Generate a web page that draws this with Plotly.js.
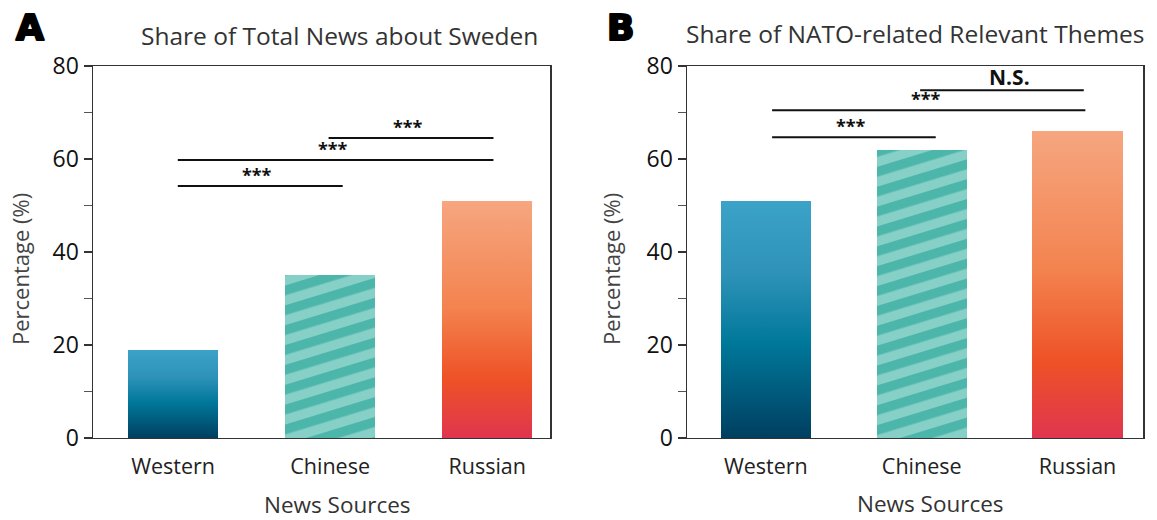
<!DOCTYPE html>
<html><head><meta charset="utf-8">
<script src="https://cdn.plot.ly/plotly-3.0.1.min.js"></script>
<style>html,body{margin:0;padding:0;background:#fff}#chart{width:1157px;height:520px}</style>
</head><body><div id="chart"></div>
<script>
// ---- data ----
const categories = ['Western', 'Chinese', 'Russian'];
const sharePctA = [19, 35, 51];   // Share of Total News about Sweden
const sharePctB = [51, 62, 66];   // Share of NATO-related Relevant Themes
const yTickVals = [0, 20, 40, 60, 80];
const yTickText = ['0', '20', '40', '60', '80'];
// significance brackets (category index from/to, height in %)
const sigA_from = [0.03, 0.03, 0.99];
const sigA_to   = [1.08, 2.04, 2.04];
const sigA_y    = [54.2, 59.8, 64.5];
const sigA_label = ['***', '***', '***'];
const sigB_from = [0.04, 0.04, 0.99];
const sigB_to   = [1.09, 2.05, 2.04];
const sigB_y    = [64.7, 70.5, 74.8];
const sigB_label = ['***', '***', 'N.S.'];

const FONT = '"Open Sans", Lato, sans-serif';

const data = [
  {type: 'bar', x: [0, 1, 2], y: sharePctA, xaxis: 'x', yaxis: 'y', width: 0.575,
   marker: {color: ['#2b8db3', '#86d0c8', '#f2814f'], line: {width: 0}}, hoverinfo: 'none'},
  {type: 'bar', x: [0, 1, 2], y: sharePctB, xaxis: 'x2', yaxis: 'y2', width: 0.58,
   marker: {color: ['#2b8db3', '#86d0c8', '#f2814f'], line: {width: 0}}, hoverinfo: 'none'}
];

function yax(anchor) {
  return {
    anchor: anchor, domain: [0.1577, 0.873], range: [0, 80],
    tickvals: yTickVals, ticktext: yTickText, ticks: 'outside', ticklen: 8, tickwidth: 1.5, tickcolor: '#333',
    minor: {dtick: 10, tick0: 0, ticks: 'outside', ticklen: 8, tickwidth: 1, tickcolor: '#555', showgrid: false},
    showgrid: false, zeroline: false, showline: true, linecolor: '#333', linewidth: 1.5, mirror: true,
    tickfont: {family: FONT, size: 23, color: '#111'}, fixedrange: true
  };
}
function xax(anchor, domain, range) {
  return {
    anchor: anchor, domain: domain, range: range,
    tickvals: [0, 1, 2], ticktext: categories, ticks: '', ticklabelstandoff: 9,
    showgrid: false, zeroline: false, showline: true, linecolor: '#333', linewidth: 1.5, mirror: true,
    tickfont: {family: FONT, size: 21.5, color: '#222'}, fixedrange: true
  };
}

const shapes = [];
const annotations = [];
function addSig(from, to, ys, labels, xr, yr) {
  for (let i = 0; i < ys.length; i++) {
    shapes.push({type: 'line', xref: xr, yref: yr, x0: from[i], x1: to[i], y0: ys[i], y1: ys[i],
                 line: {color: '#111', width: 2}});
    const ns = labels[i] !== '***';
    annotations.push({xref: xr, yref: yr, x: (from[i] + to[i]) / 2, y: ys[i], text: '<b>' + labels[i] + '</b>',
      showarrow: false, xanchor: 'center', yanchor: 'bottom', yshift: ns ? -3 : -3, xshift: ns ? 8 : -3,
      font: {family: FONT, size: ns ? 21 : 18, color: '#111'}});
  }
}
addSig(sigA_from, sigA_to, sigA_y, sigA_label, 'x', 'y');
addSig(sigB_from, sigB_to, sigB_y, sigB_label, 'x2', 'y2');

function paperText(text, x, y, size, color, extra) {
  annotations.push(Object.assign({xref: 'paper', yref: 'paper', x: x, y: y, text: text, showarrow: false,
    xanchor: 'center', yanchor: 'middle', font: {family: FONT, size: size, color: color}}, extra || {}));
}
paperText('Share of Total News about Sweden', 339 / 1157, 1 - 36 / 520, 24.5, '#333');
paperText('Share of NATO-related Relevant Themes', 915 / 1157, 1 - 34 / 520, 24.5, '#333');
paperText('Percentage (%)', 20 / 1157, 1 - 269 / 520, 22, '#444', {textangle: -90});
paperText('Percentage (%)', 611 / 1157, 1 - 269 / 520, 22, '#444', {textangle: -90});
paperText('News Sources', 337 / 1157, 1 - 504 / 520, 22.5, '#333');
paperText('News Sources', 930 / 1157, 1 - 503 / 520, 22.5, '#333');
annotations.push({xref: 'paper', yref: 'paper', x: 30 / 1157, y: 1 - 27 / 520, text: '<b>A</b>', showarrow: false,
  xanchor: 'center', yanchor: 'middle', font: {family: '"DejaVu Sans", sans-serif', size: 36, color: '#000', weight: 900}});
annotations.push({xref: 'paper', yref: 'paper', x: 620 / 1157, y: 1 - 27 / 520, text: '<b>B</b>', showarrow: false,
  xanchor: 'center', yanchor: 'middle', font: {family: '"DejaVu Sans", sans-serif', size: 36, color: '#000', weight: 900}});

const layout = {
  width: 1157, height: 520, margin: {l: 0, r: 0, t: 0, b: 0},
  paper_bgcolor: '#fff', plot_bgcolor: '#fff', showlegend: false,
  xaxis: xax('y', [93 / 1157, 550 / 1157], [-0.51, 2.40]),
  yaxis: yax('x'),
  xaxis2: xax('y2', [687 / 1157, 1143 / 1157], [-0.506, 2.42]),
  yaxis2: yax('x2'),
  shapes: shapes, annotations: annotations, bargap: 0
};

function applyFills(gd) {
  const svg = gd.querySelector('.main-svg');
  let defs = svg.querySelector('defs');
  const NS = 'http://www.w3.org/2000/svg';
  const holder = document.createElementNS(NS, 'g');
  holder.innerHTML =
    '<linearGradient id="gWest" x1="0" y1="0" x2="0" y2="1">' +
      '<stop offset="0" stop-color="#3ba2c8"/><stop offset="0.3" stop-color="#2f93b9"/>' +
      '<stop offset="0.6" stop-color="#00789a"/><stop offset="1" stop-color="#003f60"/></linearGradient>' +
    '<linearGradient id="gRus" x1="0" y1="0" x2="0" y2="1">' +
      '<stop offset="0" stop-color="#f6a680"/><stop offset="0.45" stop-color="#f3834f"/>' +
      '<stop offset="0.75" stop-color="#ee5226"/><stop offset="1" stop-color="#e0354f"/></linearGradient>' +
    '<pattern id="pChina" patternUnits="userSpaceOnUse" width="19" height="19" patternTransform="rotate(-17)">' +
      '<rect width="19" height="19" fill="#86d0c8"/><rect width="19" height="9.5" fill="#4db6ab"/></pattern>';
  while (holder.firstChild) defs.appendChild(holder.firstChild);
  const fills = ['url(#gWest)', 'url(#pChina)', 'url(#gRus)'];
  gd.querySelectorAll('.barlayer .trace').forEach(tr => {
    tr.querySelectorAll('.point path').forEach((p, i) => { p.style.fill = fills[i]; });
  });
  // heavier panel letters
  gd.querySelectorAll('.annotation-text').forEach(t => {
    if (t.textContent === 'A' || t.textContent === 'B') {
      t.style.stroke = '#000'; t.style.strokeWidth = '2.2px'; t.style.strokeLinejoin = 'round';
    }
  });
}

Plotly.newPlot('chart', data, layout, {staticPlot: true, displayModeBar: false}).then(applyFills);
</script>
</body></html>
